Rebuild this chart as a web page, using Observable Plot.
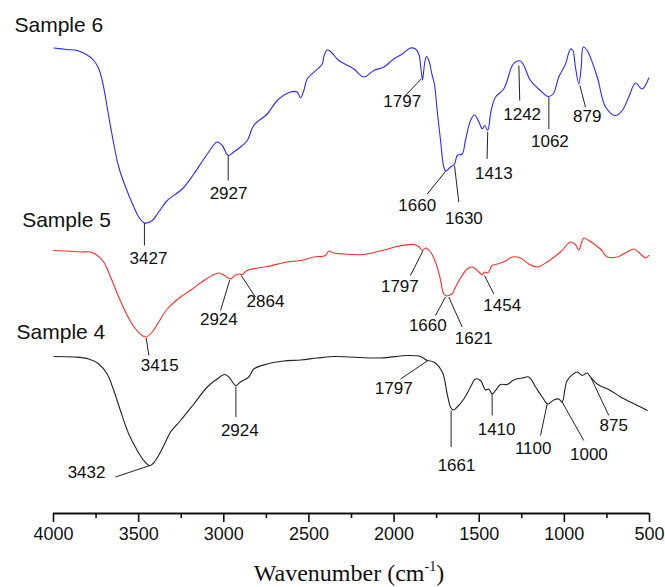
<!DOCTYPE html>
<html>
<head>
<meta charset="utf-8">
<script src="https://cdn.jsdelivr.net/npm/d3@7"></script>
<script src="https://cdn.jsdelivr.net/npm/@observablehq/plot@0.6"></script>
<style>
  html, body { margin: 0; padding: 0; background: #fff; }
</style>
</head>
<body>
<div id="chart"></div>
<script>
// Wavenumber axis ticks (cm-1)
const majorTicks = [4000, 3500, 3000, 2500, 2000, 1500, 1000, 500];
const minorTicks = [3750, 3250, 2750, 2250, 1750, 1250, 750];

// Spectra: [wavenumber, transmittance (offset, a.u.)]
const sample6 = [[3998,93.1],[3920,92.8],[3861,92.6],[3812,91.9],[3763,90.6],[3734,88.9],[3714,86.6],[3695,83.3],[3675,79.3],[3646,73.9],[3617,69.3],[3577,65.3],[3528,61.3],[3499,59.3],[3466,58.1],[3420,58.6],[3382,60.3],[3332,62.6],[3244,64.9],[3176,67.9],[3097,71.9],[3039,74.3],[3009,73.6],[2974,71.6],[2941,72.3],[2902,73.3],[2862,74.6],[2824,77.6],[2745,79.9],[2686,82.6],[2608,84.3],[2569,84.3],[2549,83.1],[2530,84.6],[2510,86.9],[2422,89.9],[2413,91.3],[2393,92.7],[2373,92.4],[2334,90.9],[2315,90.4],[2236,88.9],[2178,87.3],[2119,88.6],[2060,89.3],[2002,90.9],[1952,91.9],[1904,93.1],[1874,92.9],[1855,91.9],[1841,88.6],[1833,86.7],[1821,89.9],[1810,91.4],[1796,90.6],[1776,87.6],[1763,85.9],[1747,80.6],[1727,74.6],[1708,69.3],[1696,68.5],[1669,69.3],[1645,69.9],[1629,71.6],[1600,71.9],[1581,74.6],[1551,78.6],[1528,79.7],[1502,78.3],[1482,76.9],[1467,77.6],[1450,76.6],[1430,80.6],[1404,83.3],[1356,84.9],[1306,89.6],[1287,90.3],[1258,90.5],[1238,89.6],[1199,86.6],[1150,84.9],[1097,83.4],[1066,83.9],[1033,87.3],[993,89.9],[964,92.9],[950,92.6],[935,89.3],[915,85.9],[901,89.3],[889,93.3],[866,92.6],[807,87.3],[758,81.3],[700,79.6],[660,80.6],[622,83.3],[582,86.1],[543,84.9],[504,87.1]];

const sample5 = [[3998,52.6],[3920,52.5],[3841,52.3],[3783,52.3],[3743,51.6],[3705,50.3],[3665,47.3],[3617,43.3],[3567,39.6],[3518,36.9],[3479,35.6],[3456,35.3],[3420,36.3],[3382,38.3],[3332,40.9],[3254,43.3],[3185,44.9],[3117,46.6],[3029,48.1],[2996,47.6],[2961,46.9],[2931,47.7],[2906,47.9],[2892,47.8],[2862,48.6],[2745,49.4],[2628,50.3],[2549,50.6],[2471,51.3],[2403,51.6],[2383,52.5],[2354,52.1],[2295,51.9],[2178,51.8],[2060,52.7],[1982,53.4],[1884,53.8],[1855,53.4],[1835,52.6],[1815,53.1],[1786,52.3],[1757,50.3],[1731,47.3],[1708,43.9],[1692,43.5],[1673,43.7],[1659,43.9],[1639,45.3],[1606,47.3],[1571,48.9],[1541,49.3],[1502,48.3],[1482,47.7],[1469,48.3],[1450,48.1],[1424,49.6],[1394,49.9],[1346,50.5],[1306,51.3],[1258,51.1],[1209,49.9],[1159,49.3],[1101,50.3],[1023,52.3],[964,54.3],[935,53.8],[915,52.7],[886,55.1],[856,54.6],[788,52.9],[748,51.3],[690,51.3],[631,52.3],[592,52.9],[553,51.9],[523,51.1],[504,51.6]];

const sample4 = [[3998,31.4],[3881,31.3],[3793,30.9],[3734,29.9],[3685,27.9],[3646,24.6],[3607,20.6],[3558,15.9],[3508,12.6],[3470,10.6],[3434,9.6],[3401,10.6],[3352,13.6],[3313,16.3],[3254,18.6],[3176,21.9],[3097,25.3],[3039,26.9],[2996,27.8],[2970,27.3],[2929,25.6],[2902,26.3],[2853,27.3],[2824,28.9],[2745,29.9],[2648,30.5],[2549,30.7],[2451,31.1],[2354,31.4],[2256,31.3],[2080,31.1],[1923,31.6],[1845,31.4],[1805,30.6],[1767,30.3],[1717,28.3],[1688,23.9],[1669,21.3],[1653,20.7],[1629,21.3],[1590,22.9],[1551,25.3],[1522,26.9],[1492,26.6],[1463,24.7],[1444,24.9],[1424,23.9],[1404,24.6],[1375,25.8],[1336,25.8],[1297,26.7],[1248,27.1],[1209,27.3],[1169,25.3],[1130,23.3],[1097,21.9],[1062,22.7],[1033,22.9],[1013,22.3],[983,26.6],[925,28.3],[895,27.6],[866,28.1],[846,27.3],[807,25.9],[729,24.6],[670,23.3],[612,22.3],[553,21.3],[513,20.6]];

// Sample names and where they sit
const sampleNames = ["Sample 6", "Sample 5", "Sample 4"];
const sampleNameWn = [4229, 4184, 4217];
const sampleNameT = [97.6, 58.6, 36.3];
const sampleColors = ["#2b2bff", "#ff2a2a", "#222222"];

// Peak annotations: label, anchor on curve, leader end, label centre
const peaks = [
  {label:"3427", wn:3466, t:58.1, ewn:3466, et:53.6, lwn:3442, lt:51.0},
  {label:"2927", wn:2974, t:71.6, ewn:2974, et:66.6, lwn:2972, lt:64.0},
  {label:"1797", wn:1841, t:86.9, ewn:1933, et:83.6, lwn:1952, lt:82.3},
  {label:"1660", wn:1696, t:68.5, ewn:1805, et:63.9, lwn:1864, lt:61.6},
  {label:"1630", wn:1645, t:69.6, ewn:1620, et:62.3, lwn:1590, lt:58.9},
  {label:"1413", wn:1450, t:76.3, ewn:1454, et:70.9, lwn:1414, lt:67.9},
  {label:"1242", wn:1267, t:89.6, ewn:1262, et:82.6, lwn:1248, lt:79.8},
  {label:"1062", wn:1091, t:83.3, ewn:1091, et:76.9, lwn:1085, lt:74.3},
  {label:"879",  wn:909,  t:85.6, ewn:876,  et:81.3, lwn:866,  lt:79.3},
  {label:"3415", wn:3456, t:35.1, ewn:3440, et:31.6, lwn:3376, lt:29.6},
  {label:"2924", wn:2965, t:46.7, ewn:3019, et:40.6, lwn:3029, lt:38.7},
  {label:"2864", wn:2898, t:47.6, ewn:2814, et:43.3, lwn:2755, lt:42.3},
  {label:"1797", wn:1831, t:52.5, ewn:1904, et:47.6, lwn:1966, lt:45.3},
  {label:"1660", wn:1698, t:43.3, ewn:1757, et:39.6, lwn:1802, lt:37.6},
  {label:"1621", wn:1679, t:43.3, ewn:1600, et:37.3, lwn:1532, lt:34.9},
  {label:"1454", wn:1469, t:47.6, ewn:1414, et:43.9, lwn:1365, lt:41.6},
  {label:"3432", wn:3434, t:9.6,  ewn:3636, et:7.3,  lwn:3806, lt:8.2},
  {label:"2924", wn:2929, t:25.4, ewn:2929, et:19.3, lwn:2906, lt:16.6},
  {label:"1797", wn:1805, t:30.5, ewn:1962, et:26.9, lwn:2002, lt:24.9},
  {label:"1661", wn:1665, t:20.6, ewn:1665, et:13.3, lwn:1633, lt:9.6},
  {label:"1410", wn:1424, t:23.9, ewn:1424, et:19.6, lwn:1398, lt:16.7},
  {label:"1100", wn:1101, t:21.9, ewn:1140, et:15.6, lwn:1183, lt:12.9},
  {label:"1000", wn:1013, t:22.3, ewn:886,  et:14.6, lwn:856,  lt:11.8},
  {label:"875",  wn:846,  t:27.3, ewn:739,  et:19.6, lwn:710,  lt:17.6}
];

const spectra = [sample6, sample5, sample4];
const names = sampleNames.map((name, i) => ({name, wn: sampleNameWn[i], t: sampleNameT[i]}));

const W = 665, H = 587;
const chart = Plot.plot({
  width: W,
  height: H,
  marginLeft: 53,
  marginRight: 16,
  marginTop: 0,
  marginBottom: 74,
  style: {background: "#fff", fontFamily: "'Liberation Sans', Arial, sans-serif", color: "#111"},
  x: {domain: [4000, 500], label: null},
  y: {domain: [0, 102.6], axis: null},
  marks: [
    Plot.axisX({ticks: minorTicks, tickSize: 5, tickFormat: () => "", strokeWidth: 1.6, label: null}),
    Plot.axisX({ticks: majorTicks, tickSize: 9, tickPadding: 5, tickFormat: d => String(d), fontSize: 18, strokeWidth: 1.6, label: null}),
    Plot.ruleY([0], {stroke: "#111", strokeWidth: 1.8}),
    ...spectra.map((s, i) => Plot.line(s, {x: d => d[0], y: d => d[1], stroke: sampleColors[i], strokeWidth: 1.1, curve: "catmull-rom"})),
    Plot.link(peaks, {x1: "wn", y1: "t", x2: "ewn", y2: "et", stroke: "#222", strokeWidth: 1}),
    Plot.text(peaks, {x: "lwn", y: "lt", text: "label", fontSize: 17, fill: "#111"}),
    Plot.text(names, {x: "wn", y: "t", text: "name", textAnchor: "start", fontSize: 21, fill: "#111", clip: false})
  ]
});

// Axis title with superscript
const svg = d3.select(chart);
const title = svg.append("text")
  .attr("x", 349)
  .attr("y", 581)
  .attr("text-anchor", "middle")
  .attr("font-family", "'Liberation Serif', 'Times New Roman', serif")
  .attr("font-size", 24)
  .attr("fill", "#111");
title.append("tspan").text("Wavenumber (cm");
title.append("tspan").attr("dy", -10).attr("font-size", 14).text("-1");
title.append("tspan").attr("dy", 10).text(")");

document.getElementById("chart").appendChild(chart);
</script>
</body>
</html>
